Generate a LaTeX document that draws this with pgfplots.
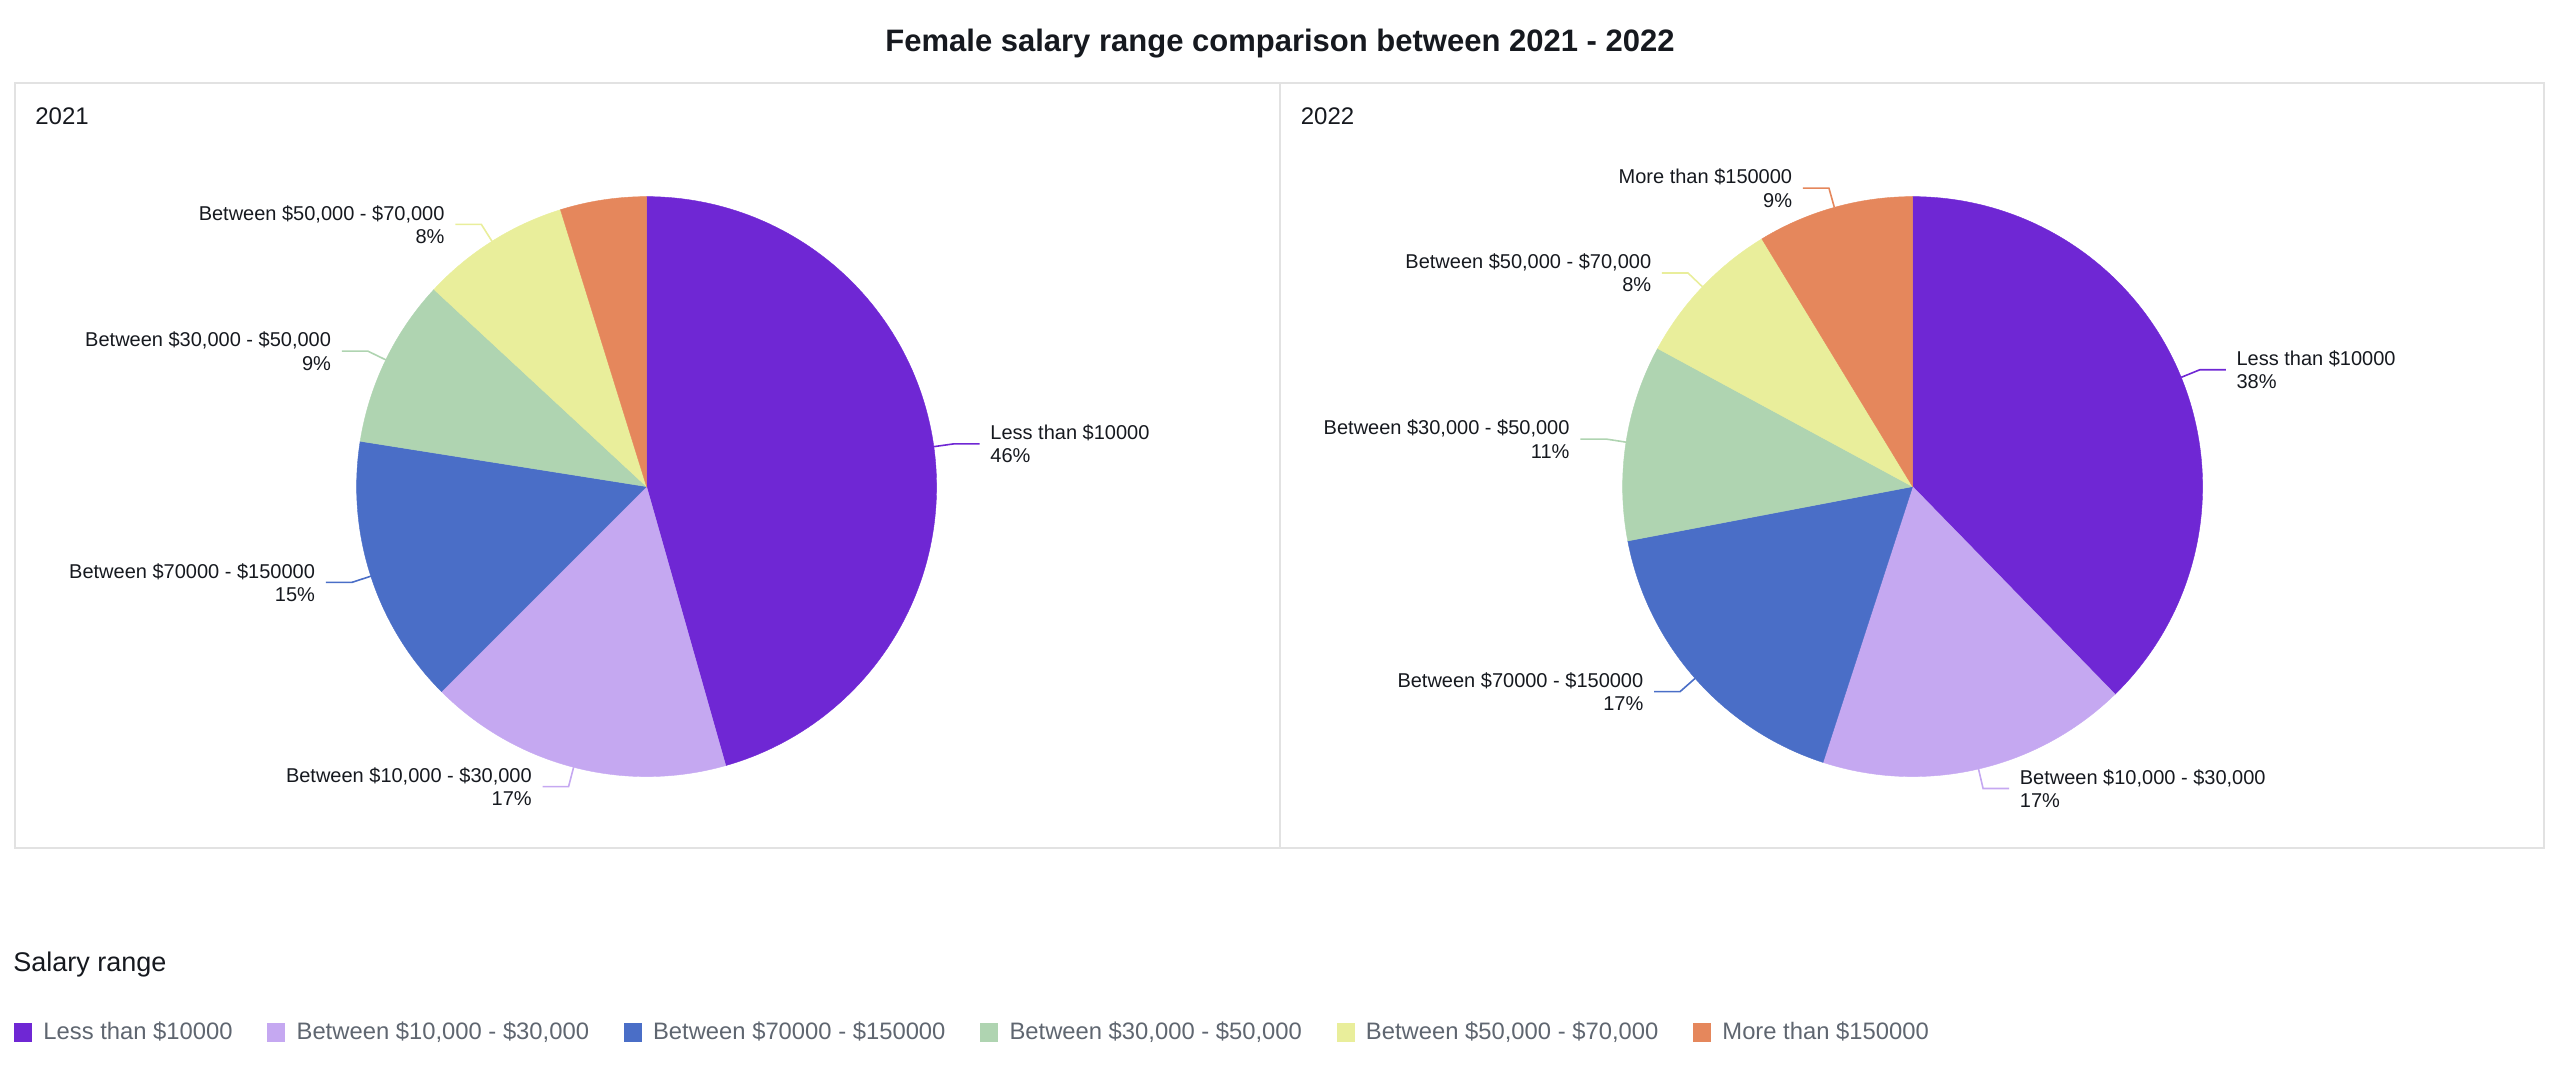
\documentclass[border=0pt]{standalone}
\usepackage{fontspec}
\setmainfont{Liberation Sans}
\usepackage{pgfplots}
\pgfplotsset{compat=1.18}

\definecolor{cA}{HTML}{6F27D4}
\definecolor{cB}{HTML}{C5A8F1}
\definecolor{cC}{HTML}{4A6EC7}
\definecolor{cD}{HTML}{AFD4B1}
\definecolor{cE}{HTML}{E9EE9B}
\definecolor{cF}{HTML}{E5875C}
\definecolor{frame}{HTML}{E2E2E2}
\definecolor{ink}{HTML}{16191F}
\definecolor{legendgray}{HTML}{5F6670}

\newcommand\titlefont{\fontsize{15.5}{18}\selectfont\bfseries}
\newcommand\panelfont{\fontsize{12}{14}\selectfont}
\newcommand\labelfont{\fontsize{10}{11.6}\selectfont}
\newcommand\legendfont{\fontsize{11.9}{14}\selectfont}

% slice: colour, centre x, centre y, from (cumulative %), to (cumulative %)
\newcommand\slice[5]{%
  \addplot[forget plot, fill=#1, draw=#1, line width=0.2pt,
           domain=#4*3.6:#5*3.6, samples=120, variable=\t]
    ({#2+145*sin(\t)},{#3-145*cos(\t)}) -- (axis cs:#2,#3) -- cycle;}
% labels: colour, centre x, centre y, mid (cumulative %), text
\newcommand\labelR[5]{%
  \draw[#1, line width=0.8pt]
    (axis cs:{#2+145*sin(#4*3.6)},{#3-145*cos(#4*3.6)}) --
    (axis cs:{#2+155*sin(#4*3.6)},{#3-155*cos(#4*3.6)}) -- ++(13pt,0pt)
    node[anchor=west, xshift=5pt, align=left, inner sep=0pt, text=ink, font=\labelfont]{#5};}
\newcommand\labelL[5]{%
  \draw[#1, line width=0.8pt]
    (axis cs:{#2+145*sin(#4*3.6)},{#3-145*cos(#4*3.6)}) --
    (axis cs:{#2+155*sin(#4*3.6)},{#3-155*cos(#4*3.6)}) -- ++(-13pt,0pt)
    node[anchor=east, xshift=-5pt, align=right, inner sep=0pt, text=ink, font=\labelfont]{#5};}

\begin{document}
\begin{tikzpicture}
\begin{axis}[
  width=1280pt, height=536pt, scale only axis,
  xmin=0, xmax=1280, ymin=0, ymax=536, y dir=reverse,
  hide axis, clip=false,
  legend columns=6,
  legend image code/.code={\fill[#1] (0pt,-4.75pt) rectangle (9pt,4.75pt);},
  legend style={at={(axis cs:7,516)}, anchor=west, draw=none, fill=none,
    inner sep=0pt, outer sep=0pt, row sep=0pt,
    font=\legendfont, text=legendgray,
    nodes={inner sep=0pt, anchor=west},
    /tikz/every odd column/.append style={column sep=5.7pt},
    /tikz/every even column/.append style={column sep=17.3pt}},
]
\path (axis cs:0,0) rectangle (axis cs:1280,536);

% title and frames
\node[font=\titlefont, text=ink, anchor=base] at (axis cs:640,25.8)
  {Female salary range comparison between 2021 - 2022};
\draw[frame, line width=1pt] (axis cs:7.3,41.3) rectangle (axis cs:1271.8,424.2);
\draw[frame, line width=1pt] (axis cs:640,41.3) -- (axis cs:640,424.2);
\node[font=\panelfont, text=ink, anchor=west, inner sep=0pt] at (axis cs:17.5,58) {2021};
\node[font=\panelfont, text=ink, anchor=west, inner sep=0pt] at (axis cs:650.2,58) {2022};

% 2021: 45.6, 16.9, 15.0, 9.4, 8.3, 4.8 (%)
\slice{cA}{323.3}{243.3}{0}{45.6}
\slice{cB}{323.3}{243.3}{45.6}{62.5}
\slice{cC}{323.3}{243.3}{62.5}{77.5}
\slice{cD}{323.3}{243.3}{77.5}{86.9}
\slice{cE}{323.3}{243.3}{86.9}{95.2}
\slice{cF}{323.3}{243.3}{95.2}{100}

% 2022: 37.7, 17.3, 17.0, 10.9, 8.4, 8.7 (%)
\slice{cA}{956.3}{243.3}{0}{37.7}
\slice{cB}{956.3}{243.3}{37.7}{55.0}
\slice{cC}{956.3}{243.3}{55.0}{72.0}
\slice{cD}{956.3}{243.3}{72.0}{82.9}
\slice{cE}{956.3}{243.3}{82.9}{91.3}
\slice{cF}{956.3}{243.3}{91.3}{100}

\labelR{cA}{323.3}{243.3}{22.8}{Less than \$10000\\46\%}
\labelL{cB}{323.3}{243.3}{54.05}{Between \$10,000 - \$30,000\\17\%}
\labelL{cC}{323.3}{243.3}{70.0}{Between \$70000 - \$150000\\15\%}
\labelL{cD}{323.3}{243.3}{82.2}{Between \$30,000 - \$50,000\\9\%}
\labelL{cE}{323.3}{243.3}{91.05}{Between \$50,000 - \$70,000\\8\%}

\labelR{cA}{956.3}{243.3}{18.85}{Less than \$10000\\38\%}
\labelR{cB}{956.3}{243.3}{46.35}{Between \$10,000 - \$30,000\\17\%}
\labelL{cC}{956.3}{243.3}{63.5}{Between \$70000 - \$150000\\17\%}
\labelL{cD}{956.3}{243.3}{77.45}{Between \$30,000 - \$50,000\\11\%}
\labelL{cE}{956.3}{243.3}{87.1}{Between \$50,000 - \$70,000\\8\%}
\labelL{cF}{956.3}{243.3}{95.65}{More than \$150000\\9\%}

% legend
\node[font=\fontsize{13.5}{16}\selectfont, text=ink, anchor=west, inner sep=0pt] at (axis cs:6.5,482.4) {Salary range};
\addlegendimage{fill=cA, draw=none}\addlegendentry{Less than \$10000}
\addlegendimage{fill=cB, draw=none}\addlegendentry{Between \$10,000 - \$30,000}
\addlegendimage{fill=cC, draw=none}\addlegendentry{Between \$70000 - \$150000}
\addlegendimage{fill=cD, draw=none}\addlegendentry{Between \$30,000 - \$50,000}
\addlegendimage{fill=cE, draw=none}\addlegendentry{Between \$50,000 - \$70,000}
\addlegendimage{fill=cF, draw=none}\addlegendentry{More than \$150000}
\end{axis}
\end{tikzpicture}
\end{document}
